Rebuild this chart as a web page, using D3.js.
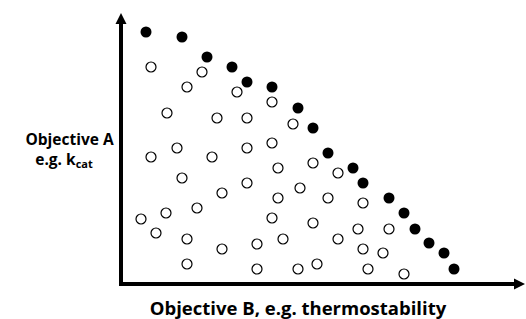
<!DOCTYPE html>
<html>
<head>
<meta charset="utf-8">
<script src="https://cdn.jsdelivr.net/npm/d3@7"></script>
<style>
  body { margin: 0; background: #fff; }
  text { font-family: "Open Sans", Lato, sans-serif; font-weight: bold; fill: #000; }
</style>
</head>
<body>
<div id="chart"></div>
<script>
// pareto front (filled points)
let frontX = [6.25, 15.25, 21.5, 27.75, 31.5, 37.75, 44.25, 48, 51.75, 58, 60.5, 67, 70.75, 73.5, 77, 80.75, 83.25];
let frontY = [100.8, 98.8, 90.8, 86.8, 80.8, 78.8, 70.4, 62.4, 52.4, 46.4, 40.4, 34.4, 28.4, 22, 16.4, 12.4, 6];

// other variants (open points)
let otherX = [7.5, 20.25, 16.5, 29, 37.75, 11.5, 24, 31.5, 43, 14, 31.5, 37.75, 7.5, 22.75, 48,
              54.25, 39.25, 44.75, 51.75, 60.5, 15.25, 31.5, 25.25, 39.25, 19, 11.25, 5, 37.75, 48, 59.25,
              67, 8.75, 16.5, 40.5, 54.25, 34, 25.25, 60.5, 65.5, 16.5, 34, 44.25, 49, 61.75, 70.75];
let otherY = [86.8, 84.8, 78.8, 76.8, 72.8, 68.4, 66.4, 66.4, 64, 54.4, 54.4, 56.4, 50.8, 50.8, 48.4,
              44.4, 46.4, 38.4, 34.4, 32.4, 42.4, 40.4, 36.4, 34.4, 30.4, 28.4, 26, 26.4, 24.4, 22,
              22, 20.4, 18, 18, 18, 16, 14, 14, 12.4, 8, 6, 6, 8, 6, 4];

let xLabel = "Objective B, e.g. thermostability";
let yLabel1 = "Objective A";
let yLabel2 = "e.g. k";
let yLabelSub = "cat";

let width = 526, height = 319;

let svg = d3.select("#chart")
      .append("svg")
      .attr("width", width)
      .attr("height", height);

let x = d3.scaleLinear().domain([0, 100]).range([121, 521]);
let y = d3.scaleLinear().domain([0, 100]).range([284, 34]);

let defs = svg.append("defs");

defs.append("marker")
    .attr("id", "arrow")
    .attr("viewBox", "0 0 10 10")
    .attr("refX", 0)
    .attr("refY", 5)
    .attr("markerUnits", "userSpaceOnUse")
    .attr("markerWidth", 11)
    .attr("markerHeight", 13)
    .attr("orient", "auto")
    .append("path")
    .attr("d", "M0,0 L10,5 L0,10 Z")
    .attr("fill", "#000");

// axes: just the domain lines with arrow heads
let xAxis = svg.append("g")
    .attr("transform", "translate(0," + y(0) + ")")
    .call(d3.axisBottom(x).ticks(0).tickSizeOuter(0));

let yAxis = svg.append("g")
    .attr("transform", "translate(" + x(0) + ",0)")
    .call(d3.axisLeft(y).ticks(0).tickSizeOuter(0));

xAxis.select(".domain")
    .attr("d", "M" + (x(0) - 2) + ",0H" + (x(0) + 393))
    .attr("stroke", "#000")
    .attr("stroke-width", 4)
    .attr("marker-end", "url(#arrow)");

yAxis.select(".domain")
    .attr("d", "M0," + (y(0) + 2) + "V" + (y(0) - 260))
    .attr("stroke", "#000")
    .attr("stroke-width", 4)
    .attr("marker-end", "url(#arrow)");

let others = otherX.map(function(d, i) { return {x: d, y: otherY[i]}; });
let front = frontX.map(function(d, i) { return {x: d, y: frontY[i]}; });

svg.selectAll(".other")
    .data(others)
    .enter().append("circle")
    .attr("class", "other")
    .attr("cx", function(d) { return x(d.x); })
    .attr("cy", function(d) { return y(d.y); })
    .attr("r", 5)
    .attr("fill", "#fff")
    .attr("stroke", "#000")
    .attr("stroke-width", 1.2);

svg.selectAll(".front")
    .data(front)
    .enter().append("circle")
    .attr("class", "front")
    .attr("cx", function(d) { return x(d.x); })
    .attr("cy", function(d) { return y(d.y); })
    .attr("r", 5.5)
    .attr("fill", "#000");

svg.append("text")
    .attr("x", 298)
    .attr("y", 315)
    .attr("text-anchor", "middle")
    .style("font-size", "18.5px")
    .text(xLabel);

svg.append("text")
    .attr("x", 69.5)
    .attr("y", 145)
    .attr("text-anchor", "middle")
    .style("font-size", "15.5px")
    .text(yLabel1);

let t2 = svg.append("text")
    .attr("x", 64)
    .attr("y", 165)
    .attr("text-anchor", "middle")
    .style("font-size", "15.5px");
t2.append("tspan").text(yLabel2);
t2.append("tspan")
    .attr("dy", 3)
    .style("font-size", "11px")
    .text(yLabelSub);
</script>
</body>
</html>
